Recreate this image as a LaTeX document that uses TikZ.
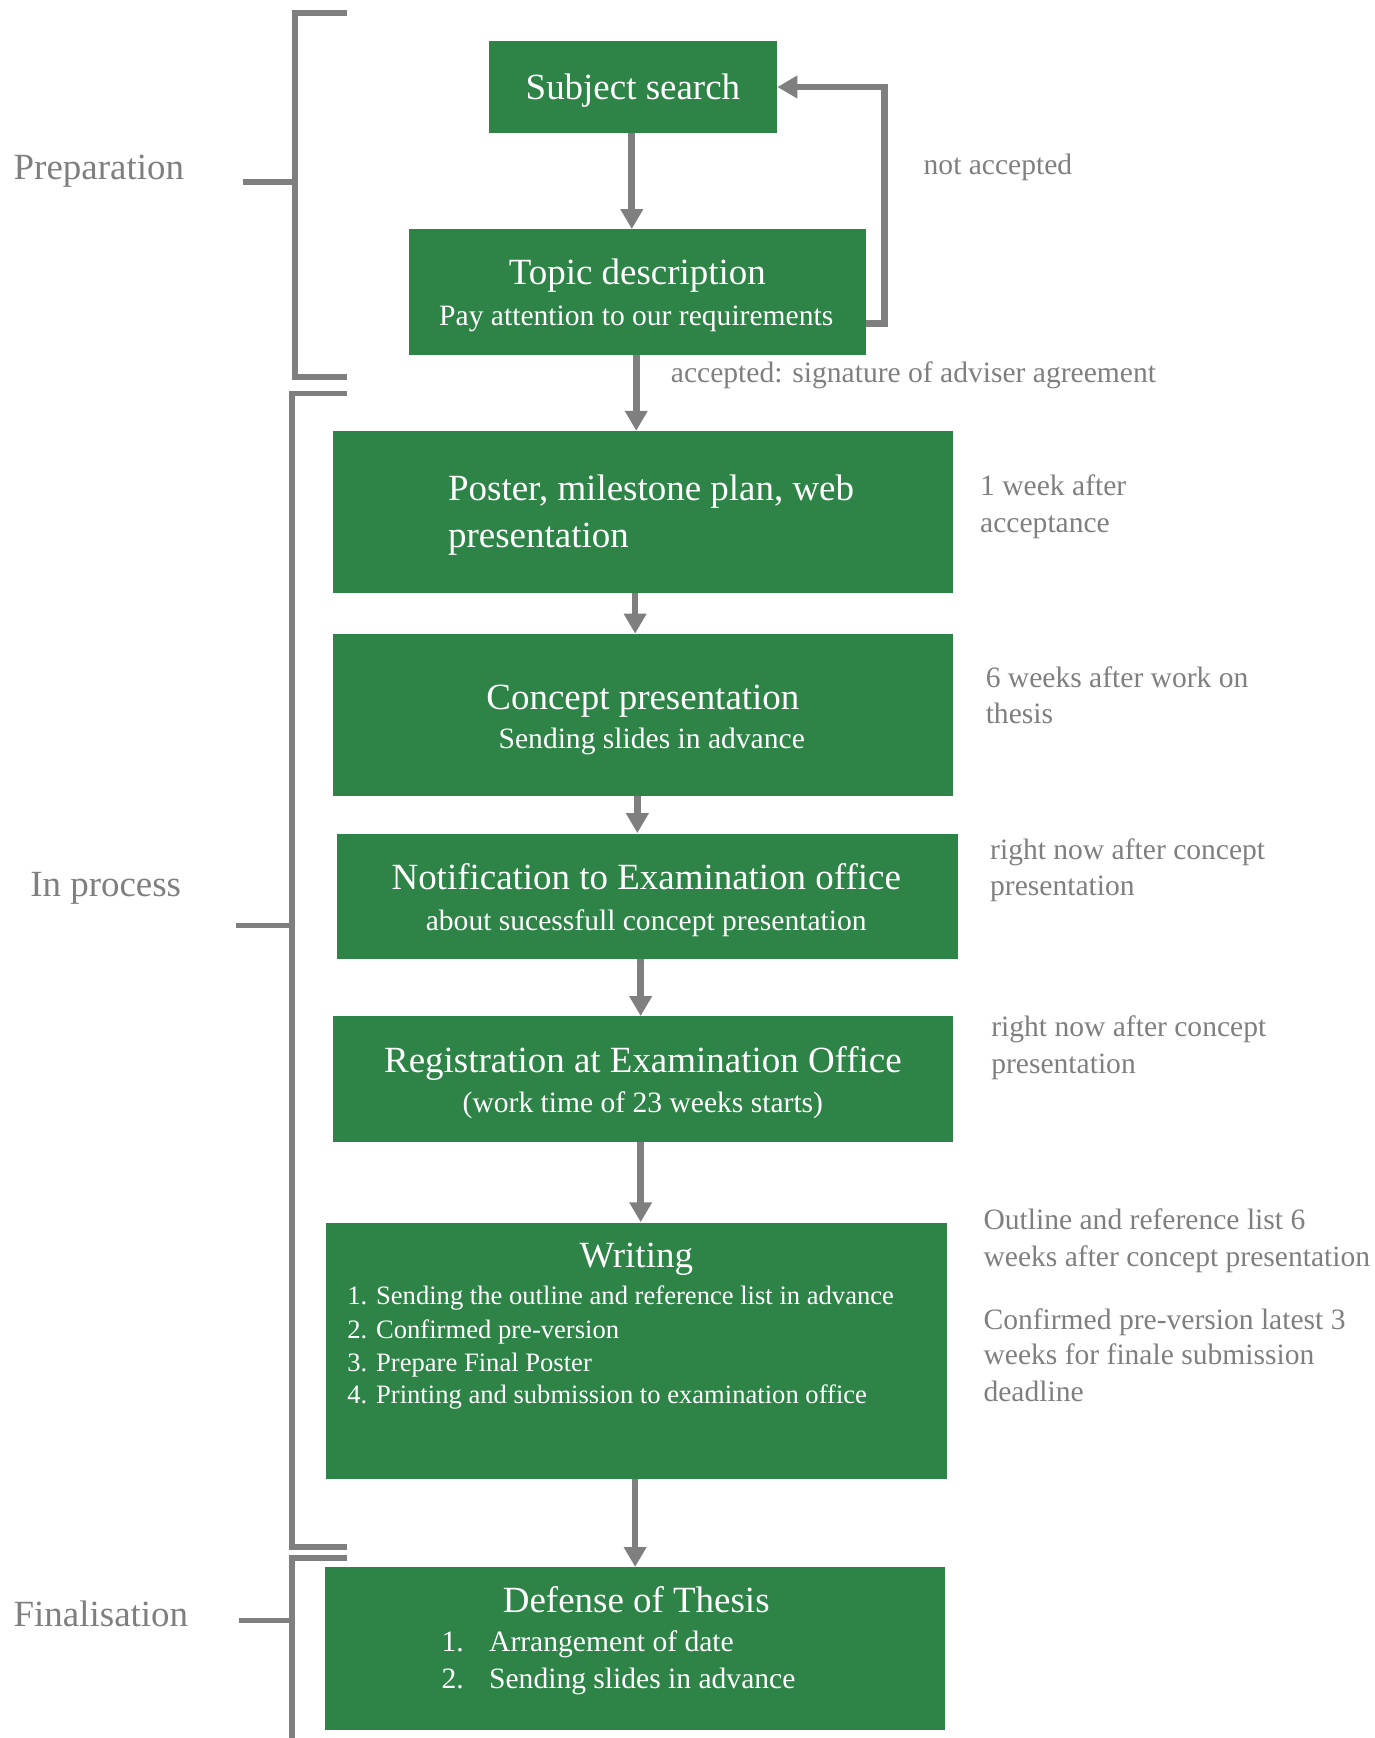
\documentclass[tikz,border=0pt]{standalone}
\usepackage{fontspec}
\setmainfont{Liberation Serif}
\usetikzlibrary{arrows.meta}
\definecolor{boxgreen}{HTML}{2E8447}
\definecolor{linegray}{HTML}{7F7F7F}
\begin{document}
\begin{tikzpicture}[x=0.6pt,y=-0.6pt,
  box/.style={fill=boxgreen, draw=none, inner sep=0pt, minimum width=336pt},
  flow/.style={draw=linegray, line width=3.6pt, line join=miter, -{Triangle[length=10.8pt,width=11.7pt]}},
  brk/.style={draw=linegray, line width=3.2pt, line join=miter},
  ttl/.style={text=white, inner sep=0pt, font=\fontsize{20}{24}\selectfont, anchor=mid, yshift=-3.6pt},
  ttlw/.style={text=white, inner sep=0pt, font=\fontsize{20}{24}\selectfont, anchor=mid west, yshift=-3.3pt},
  sub/.style={text=white, inner sep=0pt, font=\fontsize{16}{19}\selectfont, anchor=mid, yshift=-2.1pt},
  subw/.style={text=white, inner sep=0pt, font=\fontsize{16}{19}\selectfont, anchor=mid west, yshift=-2.1pt},
  lst/.style={text=white, inner sep=0pt, font=\fontsize{14.4}{18}\selectfont, anchor=mid west, yshift=-1.5pt},
  side/.style={text=linegray, inner sep=0pt, font=\fontsize{16}{20}\selectfont, anchor=mid west, yshift=-2.1pt},
  phase/.style={text=linegray, inner sep=0pt, font=\fontsize{20}{24}\selectfont, anchor=mid west, yshift=-4.2pt},
]
\useasboundingbox (0,0) rectangle (1240,1568);

% brackets
\draw[brk] (313,12) -- (266,12) -- (266,340.5) -- (313,340.5);
\draw[brk] (219,164) -- (266,164);
\draw[brk] (313,355) -- (263.5,355) -- (263.5,1396) -- (313,1396);
\draw[brk] (213,835) -- (263.5,835);
\draw[brk] (313,1406) -- (263.5,1406) -- (263.5,1580);
\draw[brk] (216,1462) -- (263.5,1462);

\node[phase] (pprep) at (12,151) {Preparation};
\node[phase] (pproc) at (27,798) {In process};
\node[phase] (pfin) at (12,1457) {Finalisation};

% boxes
\node[box, minimum width=156pt, minimum height=49.8pt] (subj) at (571,78.5) {};
\node[box, minimum width=247.2pt, minimum height=67.8pt] (topic) at (575,263.5) {};
\node[box, minimum height=87.6pt] (poster) at (580,462) {};
\node[box, minimum height=87.6pt] (concept) at (580,645) {};
\node[box, minimum height=67.8pt] (notif) at (584,808.5) {};
\node[box, minimum height=67.8pt] (regis) at (580,973.5) {};
\node[box, minimum height=138.6pt] (writing) at (574,1218.5) {};
\node[box, minimum height=88.2pt] (defense) at (573,1487.5) {};

% box texts
\node[ttl] (t1) at (571,80) {Subject search};
\node[ttl] (t2a) at (575,247) {Topic description};
\node[sub] (t2b) at (574,286) {Pay attention to our requirements};
\node[ttlw] (t3a) at (404,442) {Poster, milestone plan, web};
\node[ttlw] (t3b) at (404,485) {presentation};
\node[ttl] (t4a) at (580,630) {Concept presentation};
\node[sub] (t4b) at (588,668) {Sending slides in advance};
\node[ttl] (t5a) at (583,793) {Notification to Examination office};
\node[sub] (t5b) at (583,832) {about sucessfull concept presentation};
\node[ttl] (t6a) at (580,958) {Registration at Examination Office};
\node[sub] (t6b) at (580,996) {(work time of 23 weeks starts)};
\node[ttl] (t7) at (574,1134) {Writing};
\node[lst] (t7a) at (313,1171) {1. Sending the outline and reference list in advance};
\node[lst] (t7b) at (313,1201) {2. Confirmed pre-version};
\node[lst] (t7c) at (313,1231) {3. Prepare Final Poster};
\node[lst] (t7d) at (313,1260) {4. Printing and submission to examination office};
\node[ttl] (t8) at (574,1445) {Defense of Thesis};
\node[subw] (t8n1) at (398,1483) {1.};
\node[subw] (t8a) at (441,1483) {Arrangement of date};
\node[subw] (t8n2) at (398,1516) {2.};
\node[subw] (t8b) at (441,1516) {Sending slides in advance};

% arrows
\draw[flow] ([xshift=-0.6pt]subj.south) -- ([xshift=-0.6pt]subj.south |- topic.north);
\draw[flow] ([xshift=-0.6pt]topic.south) -- ([xshift=-0.6pt]topic.south |- poster.north);
\draw[flow] ([xshift=-4.2pt]poster.south) -- ([xshift=-4.2pt]concept.north);
\draw[flow] ([xshift=-3pt]concept.south) -- ([xshift=-3pt]concept.south |- notif.north);
\draw[flow] ([xshift=-3.6pt]notif.south) -- ([xshift=-3.6pt]notif.south |- regis.north);
\draw[flow] ([xshift=-1.2pt]regis.south) -- ([xshift=-1.2pt]regis.south |- writing.north);
\draw[flow] ([xshift=-0.6pt]writing.south) -- ([xshift=-0.6pt]writing.south |- defense.north);
\coordinate (loop) at (798,78.5);
\draw[flow] ([yshift=-17.1pt]topic.east) -| (loop) -- (subj.east);

% side labels
\node[side] (l1) at (833,150) {not accepted};
\node[side] (l2) at (605,338) {accepted: signature of adviser agreement};
\node[side] (l3a) at (884,440) {1 week after};
\node[side] (l3b) at (884,473) {acceptance};
\node[side] (l4a) at (889,613) {6 weeks after work on};
\node[side] (l4b) at (889,645) {thesis};
\node[side] (l5a) at (893,768) {right now after concept};
\node[side] (l5b) at (893,801) {presentation};
\node[side] (l6a) at (894,928) {right now after concept};
\node[side] (l6b) at (894,961) {presentation};
\node[side] (l7a) at (887,1102) {Outline and reference list 6};
\node[side] (l7b) at (887,1135) {weeks after concept presentation};
\node[side] (l8a) at (887,1192) {Confirmed pre-version latest 3};
\node[side] (l8b) at (887,1224) {weeks for finale submission};
\node[side] (l8c) at (887,1257) {deadline};
\end{tikzpicture}
\end{document}
